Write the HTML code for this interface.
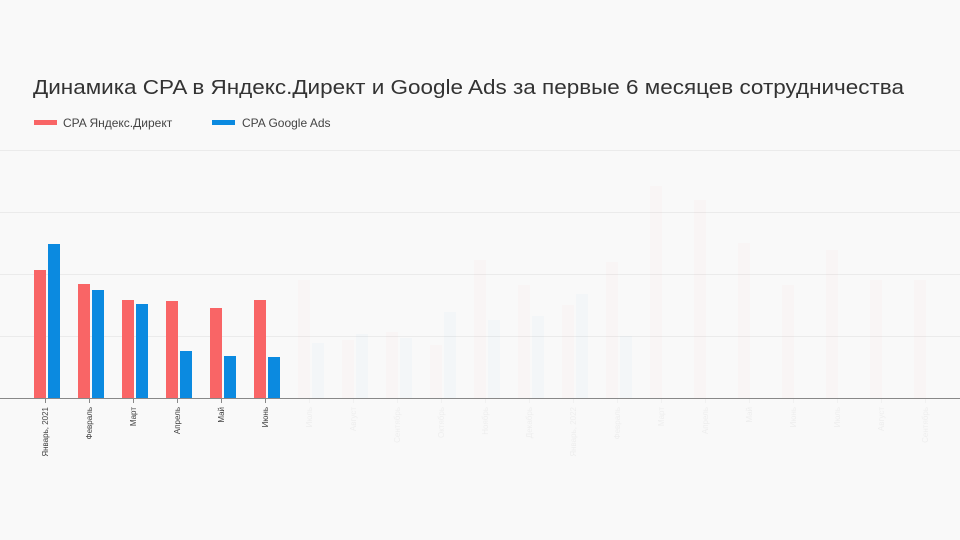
<!DOCTYPE html>
<html><head><meta charset="utf-8"><style>
html,body{margin:0;padding:0;background:#f9f9f9;}
svg{display:block;font-family:"Liberation Sans",sans-serif;}
</style></head><body>
<svg width="960" height="540" viewBox="0 0 960 540">
<rect width="960" height="540" fill="#f9f9f9"/>
<text x="33" y="94" font-size="20" fill="#333" textLength="871" lengthAdjust="spacingAndGlyphs">Динамика CPA в Яндекс.Директ и Google Ads за первые 6 месяцев сотрудничества</text>
<rect x="34" y="120" width="23" height="5" fill="#f96566"/>
<text x="63" y="127" font-size="12" fill="#444">CPA Яндекс.Директ</text>
<rect x="212" y="120" width="23" height="5" fill="#0b8ae0"/>
<text x="242" y="127" font-size="12" fill="#444">CPA Google Ads</text>
<g stroke="#ebebeb" stroke-width="1">
<line x1="0" y1="150.5" x2="960" y2="150.5"/>
<line x1="0" y1="212.5" x2="960" y2="212.5"/>
<line x1="0" y1="274.5" x2="960" y2="274.5"/>
<line x1="0" y1="336.5" x2="960" y2="336.5"/>
</g>
<g id="bars"></g>
<line x1="0" y1="398.5" x2="960" y2="398.5" stroke="#888" stroke-width="1"/>
<g id="labels" font-size="8" fill="#444"></g>
</svg>
<script>
var red=[270,284,300,301,308,300,280,340,332,345,260,285,305,262,186,200,243,285,250,280,280];
var blue=[244,290,304,351,356,357,343,334,338,312,320,316,294,336,398,398,398,398,398,398,398];
var labs=["Январь, 2021","Февраль","Март","Апрель","Май","Июнь","Июль","Август","Сентябрь","Октябрь","Ноябрь","Декабрь","Январь, 2022","Февраль","Март","Апрель","Май","Июнь","Июль","Август","Сентябрь"];
var ns="http://www.w3.org/2000/svg",g=document.getElementById("bars"),L=document.getElementById("labels");
for(var i=0;i<21;i++){var c=45+44*i,op=i<6?1:0.025;
function r(x,y,col){var e=document.createElementNS(ns,"rect");e.setAttribute("x",x);e.setAttribute("y",y);e.setAttribute("width",12);e.setAttribute("height",398-y);e.setAttribute("fill",col);e.setAttribute("opacity",op);g.appendChild(e);}
r(c-11,red[i],"#f96566");r(c+3,blue[i],"#0b8ae0");
var t=document.createElementNS(ns,"line");t.setAttribute("x1",c+.5);t.setAttribute("x2",c+.5);t.setAttribute("y1",398);t.setAttribute("y2",403);t.setAttribute("stroke","#888");t.setAttribute("opacity",i<6?1:0.06);L.appendChild(t);
var tx=document.createElementNS(ns,"text");tx.setAttribute("transform","translate("+(c+3)+",407) rotate(-90)");tx.setAttribute("text-anchor","end");tx.setAttribute("opacity",i<6?1:0.06);tx.textContent=labs[i];L.appendChild(tx);}
</script>
</body></html>
